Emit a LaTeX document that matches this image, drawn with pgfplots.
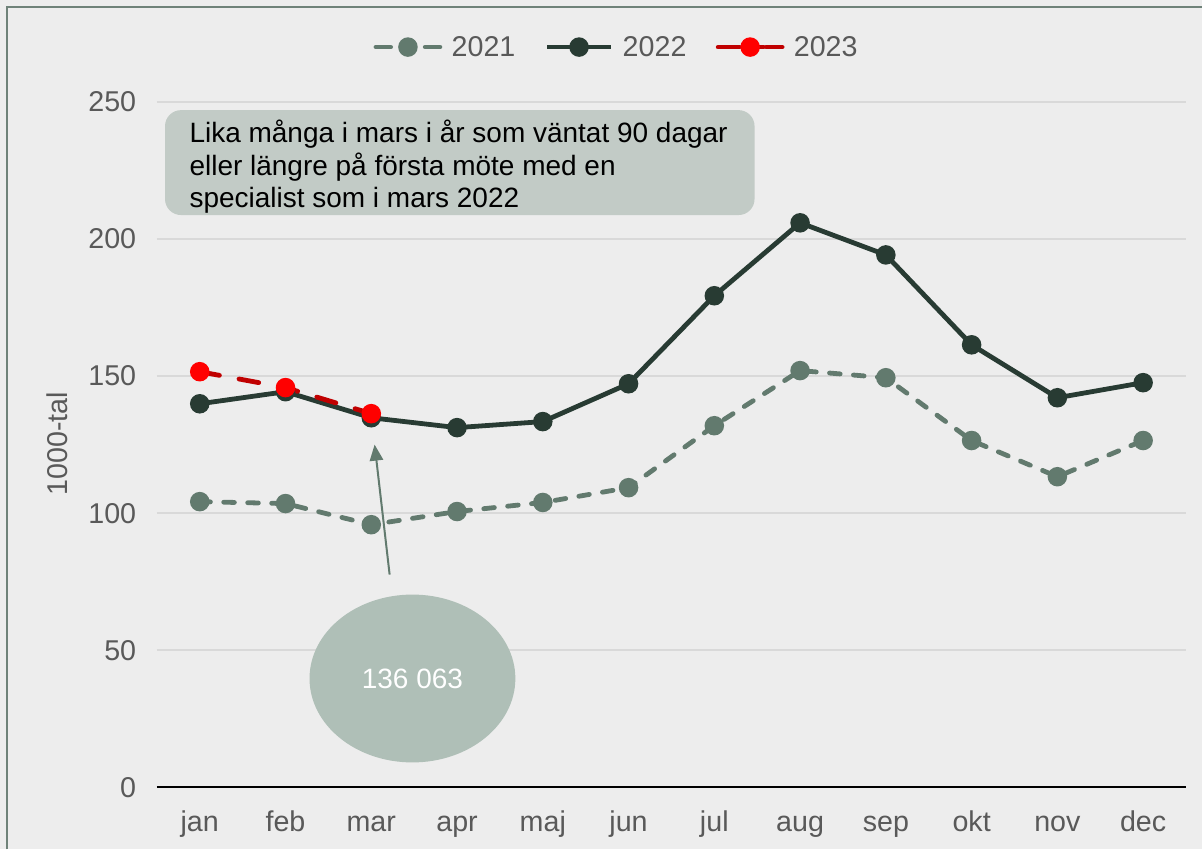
\documentclass[border=0pt]{standalone}
\usepackage{fontspec}
\setmainfont{Liberation Sans}
\usepackage{pgfplots}
\pgfplotsset{compat=1.18}
\usetikzlibrary{arrows.meta}

\definecolor{bgc}{HTML}{EDEDED}
\definecolor{framec}{HTML}{6F8279}
\definecolor{gridc}{HTML}{D9D9D9}
\definecolor{txt}{HTML}{595959}
\definecolor{c21}{HTML}{627A6E}
\definecolor{c22}{HTML}{283B33}
\definecolor{c23}{HTML}{C00000}
\definecolor{c23m}{HTML}{FF0000}
\definecolor{boxc}{HTML}{C2CBC6}
\definecolor{bubc}{HTML}{AFBFB7}

% all sizes: 1px of the reference = 0.75pt
\begin{document}
\begin{tikzpicture}
\fill[bgc] (0,0) rectangle (902.25pt,637.5pt);
\draw[framec, line width=1.5pt] (5.25pt,0) -- (5.25pt,632.25pt) -- (902.25pt,632.25pt);

\begin{axis}[
  at={(117.75pt,46.5pt)}, anchor=south west,
  scale only axis, width=772.5pt, height=514.5pt,
  xmin=-0.5, xmax=11.5, ymin=0, ymax=250,
  xtick={0,...,11},
  xticklabels={jan,feb,mar,apr,maj,jun,jul,aug,sep,okt,nov,dec},
  ytick={0,50,...,250},
  axis x line*=bottom, axis y line*=left,
  x axis line style={black, line width=1.5pt},
  y axis line style={draw=none},
  tick style={draw=none},
  ymajorgrids, grid style={gridc, line width=1.5pt},
  /pgf/number format/assume math mode=true,
  tick label style={font=\fontsize{21.5}{25}\selectfont, text=txt},
  xticklabel style={text height=15.5pt, text depth=4.5pt, yshift=-14pt},
  yticklabel style={xshift=-12pt},
  legend columns=3,
  legend style={at={(0.447,1.080)}, anchor=center, draw=none, fill=none,
    font=\fontsize{21.5}{25}\selectfont, text=txt,
    /tikz/every odd column/.append style={column sep=5pt},
    /tikz/every even column/.append style={column sep=20pt}},
  legend image code/.code={\draw[mark repeat=2,mark phase=2,#1] plot coordinates {(0pt,0pt) (24pt,0pt) (48pt,0pt)};},
  clip=false,
]
\addplot[c21, line width=3.6pt, line cap=round, dash pattern=on 8pt off 10pt,
  mark=*, mark size=5.5pt, mark options={solid, fill=c21, draw=c21},
  legend image post style={dash pattern=on 11pt off 8pt on 10pt off 8pt}]
  coordinates {(0,104.2) (1,103.5) (2,95.8) (3,100.6) (4,103.9) (5,109.3) (6,131.9) (7,152.0) (8,149.4) (9,126.5) (10,113.3) (11,126.5)};
\addlegendentry{2021}
\addplot[c22, line width=3.6pt,
  mark=*, mark size=5.5pt, mark options={solid, fill=c22, draw=c22}]
  coordinates {(0,139.9) (1,144.3) (2,134.8) (3,131.2) (4,133.4) (5,147.2) (6,179.3) (7,205.9) (8,194.2) (9,161.4) (10,142.1) (11,147.6)};
\addlegendentry{2022}
\addplot[c23, line width=3.6pt, line cap=round, dash pattern=on 15pt off 15pt,
  mark=*, mark size=5.5pt, mark options={solid, fill=c23m, draw=c23m},
  legend image post style={dash pattern=on 16pt off 2pt}]
  coordinates {(0,151.6) (1,145.8) (2,136.3)};
\addlegendentry{2023}

\node[xshift=-75pt, rotate=90, font=\fontsize{21.5}{25}\selectfont, text=txt]
  at (rel axis cs:0,0.501) {1000-tal};

\node[fill=boxc, rounded corners=12pt, minimum width=442.5pt, minimum height=78.75pt,
  anchor=north west] at (axis cs:-0.408,247.1) {};
\node[anchor=north west, align=left, font=\fontsize{21}{24.5}\selectfont, text=black, inner sep=0pt]
  at (axis cs:-0.122,243.5) {Lika många i mars i år som väntat 90 dagar\\eller längre på första möte med en\\specialist som i mars 2022};

\draw[c21, line width=1.5pt, -{Triangle[length=12pt,width=10pt]}] (axis cs:2.214,77.6) -- (axis cs:2.039,125);
\fill[bubc] (axis cs:2.48,39.7) ellipse [x radius=77.25pt, y radius=63pt];
\node[font=\fontsize{21}{25}\selectfont, text=white] at (axis cs:2.48,39.7) {136 063};
\end{axis}
\end{tikzpicture}
\end{document}
